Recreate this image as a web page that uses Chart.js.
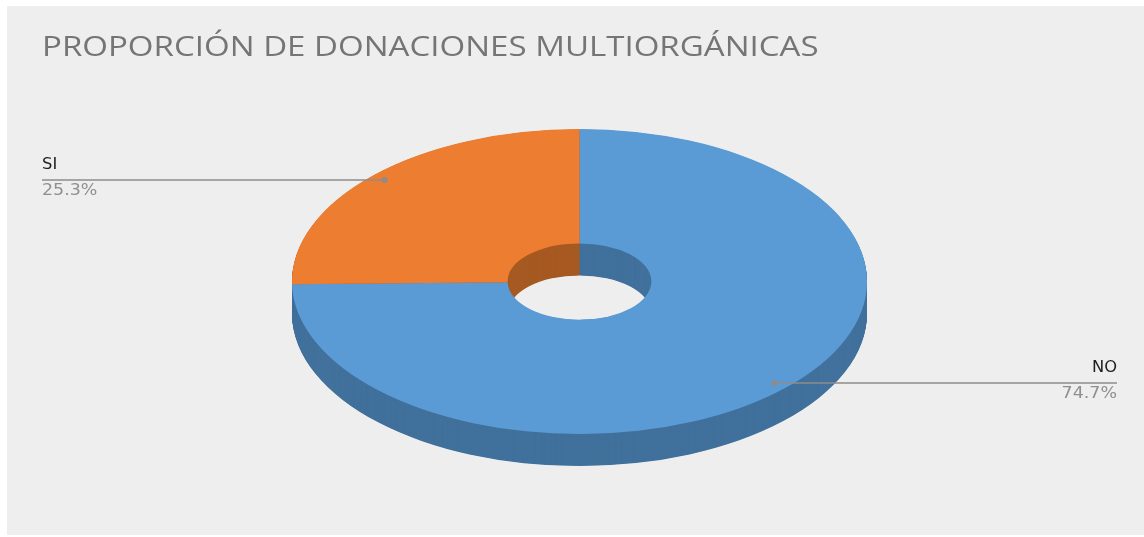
<!DOCTYPE html>
<html>
<head>
<meta charset="utf-8">
<title>Donaciones multiorgánicas</title>
<script src="https://cdn.jsdelivr.net/npm/chart.js@4.4.1/dist/chart.umd.min.js"></script>
<style>
	html, body { margin: 0; background: #ffffff; }
	#panel { position: absolute; left: 7px; top: 6px; width: 1137px; height: 529px; background: #eeeeee; }
</style>
</head>
<body>
<div id="panel"><canvas id="donaciones"></canvas></div>
<script>
// Data
const labels = ["NO", "SI"];
const values = [74.7, 25.3];
const topColors = ["#5b9bd5", "#ed7d31"];
const sideColors = ["#41719c", "#a65a22"];
const chartTitle = "PROPORCIÓN DE DONACIONES MULTIORGÁNICAS";

// Tilted ring look (top face radii and thickness, px)
const ringRX = 287.5;
const ringRY = 152.5;
const ringDepth = 32;
// text is drawn a little wide
const titleStretch = 1.18;
const labelStretch = 1.09;

// squash the round doughnut into an ellipse, pushed down by "shift"
function tilt(ctx, arc, shift) {
	ctx.translate(arc.x, arc.y + shift);
	ctx.scale(ringRX / arc.outerRadius, ringRY / arc.outerRadius);
	ctx.translate(-arc.x, -arc.y);
}

function ringPath(ctx, arc) {
	ctx.beginPath();
	ctx.arc(arc.x, arc.y, arc.outerRadius, arc.startAngle, arc.endAngle);
	ctx.arc(arc.x, arc.y, arc.innerRadius, arc.endAngle, arc.startAngle, true);
	ctx.closePath();
}

function wideText(ctx, text, x, y, stretch) {
	ctx.save();
	ctx.translate(x, y);
	ctx.scale(stretch, 1);
	ctx.fillText(text, 0, 0);
	ctx.restore();
}

const tiltedRing = {
	id: "tiltedRing",
	beforeDraw(chart) {
		const ctx = chart.ctx;
		ctx.save();
		ctx.font = "28px 'Open Sans'";
		ctx.fillStyle = "#757575";
		ctx.textAlign = "left";
		ctx.textBaseline = "alphabetic";
		wideText(ctx, chartTitle, chart.chartArea.left, 50, titleStretch);
		ctx.restore();
	},
	beforeDatasetsDraw(chart) {
		const ctx = chart.ctx;
		const arcs = chart.getDatasetMeta(0).data;
		// side wall: darker copies stacked from the bottom up
		for (let s = ringDepth; s > 0; s -= 0.5) {
			ctx.save();
			tilt(ctx, arcs[0], s);
			arcs.forEach((arc, i) => {
				ringPath(ctx, arc);
				ctx.fillStyle = sideColors[i];
				ctx.fill();
			});
			ctx.restore();
		}
		// the library draws the top face inside this transform
		ctx.save();
		tilt(ctx, arcs[0], 0);
	},
	afterDatasetsDraw(chart) {
		const ctx = chart.ctx;
		ctx.restore();
		const arcs = chart.getDatasetMeta(0).data;
		const total = values.reduce((a, b) => a + b, 0);
		const area = chart.chartArea;
		arcs.forEach((arc, i) => {
			const mid = (arc.startAngle + arc.endAngle) / 2;
			const r = arc.outerRadius * 0.95;
			const px = arc.x + Math.cos(mid) * r * ringRX / arc.outerRadius;
			const py = arc.y + Math.sin(mid) * r * ringRY / arc.outerRadius;
			const left = px < arc.x;
			const edge = left ? area.left : area.right;

			ctx.save();
			ctx.strokeStyle = "#8c8c8c";
			ctx.fillStyle = "#8c8c8c";
			ctx.lineWidth = 1.5;
			ctx.beginPath();
			ctx.moveTo(edge, py);
			ctx.lineTo(px, py);
			ctx.stroke();
			ctx.beginPath();
			ctx.arc(px, py, 3, 0, Math.PI * 2);
			ctx.fill();

			ctx.textAlign = left ? "left" : "right";
			ctx.textBaseline = "alphabetic";
			ctx.font = "15px 'DejaVu Sans'";
			ctx.fillStyle = "#1e1e1e";
			wideText(ctx, labels[i], edge, py - 11, labelStretch);
			ctx.font = "16px 'DejaVu Sans'";
			ctx.fillStyle = "#8f8f8f";
			wideText(ctx, (values[i] / total * 100).toFixed(1) + "%", edge, py + 15, labelStretch);
			ctx.restore();
		});
	}
};

const donaciones = new Chart(document.getElementById("donaciones"), {
	type: "doughnut",
	data: {
		labels: labels,
		datasets: [
			{
				data: values,
				backgroundColor: topColors,
				borderWidth: 0,
				cutout: "25%",
				clip: false,
			},
		],
	},
	options: {
		responsive: true,
		maintainAspectRatio: false,
		animation: false,
		events: [],
		layout: {
			padding: { left: 35, right: 27, top: 66, bottom: 44 },
		},
		plugins: {
			legend: { display: false },
			tooltip: { enabled: false },
			title: { display: false },
		},
	},
	plugins: [tiltedRing],
});
</script>
</body>
</html>
